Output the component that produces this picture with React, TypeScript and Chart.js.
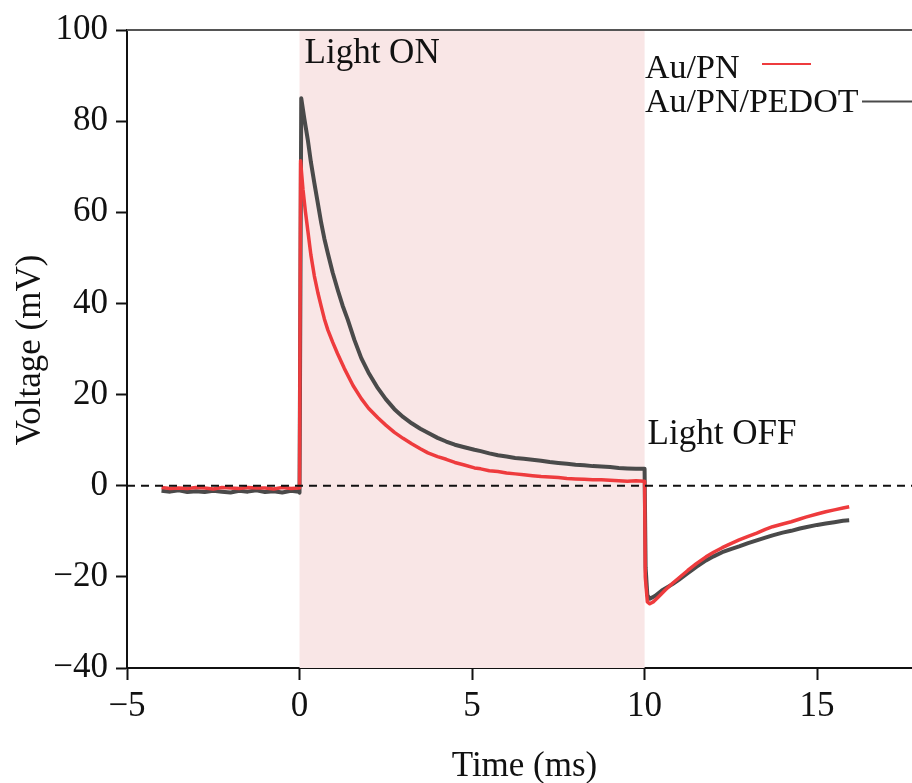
import React, { useEffect, useRef } from "react";
import { Chart, registerables } from "chart.js";

Chart.register(...registerables);

// ---- Data ----
const xTicks = [-5, 0, 5, 10, 15];
const yTicks = [-40, -20, 0, 20, 40, 60, 80, 100];

const seriesNames = ["Au/PN", "Au/PN/PEDOT"];

const timeRed = [
  -4.0, -3.75, -3.5, -3.25, -3.0, -2.75, -2.5, -2.25, -2.0, -1.75, -1.5, -1.25, -1.0, -0.75, -0.5, -0.25, -0.02,
  0.0, 0.03, 0.1, 0.17, 0.24, 0.33, 0.43, 0.53, 0.63, 0.72, 0.82, 0.96, 1.1, 1.3, 1.55, 1.79, 2.0, 2.27, 2.5, 2.75,
  3.0, 3.25, 3.5, 3.72,
  4.0, 4.25, 4.5, 4.75, 5.07, 5.25, 5.5, 5.75, 6.0, 6.25, 6.5, 6.75, 7.0, 7.25, 7.5, 7.75, 8.0, 8.25, 8.5, 8.75,
  9.0, 9.25, 9.5, 9.75, 9.98,
  10.0, 10.02, 10.08, 10.15, 10.25, 10.4, 10.6, 10.81, 11.0, 11.25, 11.5, 11.78, 12.0, 12.25, 12.5, 12.74, 13.0,
  13.25, 13.5, 13.71, 14.0, 14.25, 14.5, 14.67, 15.0, 15.25, 15.5, 15.75, 15.93,
];
const voltRed = [
  -0.4, -0.6, -0.5, -0.6, -0.4, -0.5, -0.7, -0.4, -0.5, -0.6, -0.4, -0.5, -0.5, -0.7, -0.4, -0.6, -0.5,
  -0.5, 71.3, 65.0, 60.2, 56.0, 50.6, 46.0, 42.4, 39.3, 36.6, 34.2, 31.5, 29.0, 25.7, 22.0, 19.1, 17.0, 14.9, 13.3, 11.7,
  10.4, 9.2, 8.1, 7.2,
  6.4, 5.8, 5.1, 4.6, 3.9, 3.7, 3.3, 3.1, 2.8, 2.6, 2.4, 2.2, 2.0, 1.9, 1.8, 1.6, 1.5, 1.4, 1.3, 1.3,
  1.2, 1.1, 1.0, 1.1, 1.0,
  1.0, -20.0, -25.5, -25.9, -25.5, -24.4, -22.9, -21.4, -20.2, -18.6, -17.1, -15.6, -14.6, -13.6, -12.7, -11.9, -11.1,
  -10.4, -9.6, -9.0, -8.4, -7.9, -7.3, -6.9, -6.2, -5.7, -5.3, -4.9, -4.6,
];

const timeGray = [
  -4.0, -3.75, -3.5, -3.25, -3.0, -2.75, -2.5, -2.25, -2.0, -1.75, -1.5, -1.25, -1.0, -0.75, -0.5, -0.25, -0.02,
  0.0, 0.05, 0.14, 0.24, 0.33, 0.43, 0.53, 0.63, 0.72, 0.82, 0.96, 1.11, 1.25, 1.4, 1.59, 1.79, 2.0, 2.27, 2.5, 2.75,
  3.0, 3.25, 3.5, 3.72,
  4.0, 4.25, 4.5, 4.75, 5.07, 5.25, 5.5, 5.75, 6.0, 6.25, 6.5, 6.75, 7.0, 7.25, 7.5, 7.75, 8.0, 8.25, 8.5, 8.75,
  9.0, 9.25, 9.5, 9.75, 9.98,
  10.0, 10.03, 10.08, 10.15, 10.3, 10.5, 10.81, 11.0, 11.25, 11.5, 11.78, 12.0, 12.25, 12.5, 12.74, 13.0,
  13.25, 13.5, 13.71, 14.0, 14.25, 14.5, 14.67, 15.0, 15.25, 15.5, 15.75, 15.93,
];
const voltGray = [
  -1.1, -1.3, -1.0, -1.4, -1.2, -1.4, -1.1, -1.3, -1.5, -1.1, -1.3, -1.0, -1.4, -1.2, -1.5, -1.1, -1.3,
  -1.5, 85.0, 80.5, 75.9, 71.0, 66.4, 62.0, 57.6, 54.2, 51.0, 46.8, 42.9, 39.5, 36.4, 32.0, 28.0, 24.8, 21.4, 19.0, 16.8,
  15.1, 13.7, 12.5, 11.6,
  10.5, 9.7, 9.0, 8.5, 7.9, 7.6, 7.1, 6.7, 6.4, 6.1, 5.9, 5.7, 5.5, 5.2, 5.0, 4.8, 4.6, 4.5, 4.3, 4.2,
  4.1, 3.9, 3.8, 3.7, 3.7,
  3.7, -18.0, -24.0, -24.8, -24.2, -23.0, -21.6, -20.6, -19.2, -17.8, -16.4, -15.5, -14.6, -13.9, -13.3, -12.6,
  -12.0, -11.4, -10.9, -10.3, -9.9, -9.4, -9.1, -8.6, -8.3, -8.0, -7.7, -7.6,
];

const shadeStart = 0;
const shadeEnd = 10;
const annotationOn = "Light ON";
const annotationOff = "Light OFF";
const xTitle = "Time (ms)";
const yTitle = "Voltage (mV)";

const RED = "#ee3b3d";
const GRAY = "#4a4a4a";
const FONT = "'Liberation Serif', 'Times New Roman', serif";

const fmt = (v: number) => (v < 0 ? "\u2212" + Math.abs(v) : String(v));

const decorPlugin = {
  id: "decor",
  beforeDatasetsDraw(chart: any) {
    const { ctx, chartArea, scales } = chart;
    const x = scales.x;
    ctx.save();
    ctx.fillStyle = "#f9e6e6";
    const x0 = x.getPixelForValue(shadeStart);
    const x1 = x.getPixelForValue(shadeEnd);
    ctx.fillRect(x0, chartArea.top, x1 - x0, chartArea.bottom - chartArea.top);
    ctx.restore();
  },
  afterDatasetsDraw(chart: any) {
    const { ctx, chartArea, scales } = chart;
    const x = scales.x;
    const y = scales.y;
    ctx.save();
    // zero dashed line
    const y0 = y.getPixelForValue(0);
    ctx.strokeStyle = "#111";
    ctx.lineWidth = 2;
    ctx.setLineDash([8, 6]);
    ctx.beginPath();
    ctx.moveTo(chartArea.left, y0);
    ctx.lineTo(chartArea.right, y0);
    ctx.stroke();
    ctx.setLineDash([]);
    // top spine
    ctx.strokeStyle = "#555";
    ctx.lineWidth = 2;
    ctx.beginPath();
    ctx.moveTo(chartArea.left, chartArea.top);
    ctx.lineTo(chartArea.right, chartArea.top);
    ctx.stroke();

    ctx.fillStyle = "#111";
    ctx.font = `35px ${FONT}`;
    ctx.textBaseline = "alphabetic";
    ctx.textAlign = "left";
    ctx.fillText(annotationOn, x.getPixelForValue(shadeStart) + 5, 63);
    ctx.fillText(annotationOff, x.getPixelForValue(shadeEnd) + 3, 444);

    // legend
    ctx.font = `34px ${FONT}`;
    ctx.fillText(seriesNames[0], 645, 78);
    ctx.fillText(seriesNames[1], 645, 112);
    ctx.lineWidth = 2;
    ctx.strokeStyle = RED;
    ctx.beginPath();
    ctx.moveTo(762, 64);
    ctx.lineTo(811, 64);
    ctx.stroke();
    ctx.strokeStyle = GRAY;
    ctx.beginPath();
    ctx.moveTo(862, 101.5);
    ctx.lineTo(912, 101.5);
    ctx.stroke();

    // axis titles
    ctx.font = `35px ${FONT}`;
    ctx.textAlign = "center";
    ctx.textBaseline = "middle";
    ctx.fillText(xTitle, (chartArea.left + chartArea.right) / 2 + 5, 767);
    ctx.translate(31, 350);
    ctx.rotate(-Math.PI / 2);
    ctx.fillText(yTitle, 0, 0);
    ctx.restore();
  },
};

export default function App() {
  const ref = useRef<HTMLCanvasElement | null>(null);
  useEffect(() => {
    if (!ref.current) return;
    const redPts = timeRed.map((t, i) => ({ x: t, y: voltRed[i] }));
    const grayPts = timeGray.map((t, i) => ({ x: t, y: voltGray[i] }));
    const chart = new Chart(ref.current, {
      type: "line",
      data: {
        datasets: [
          {
            label: seriesNames[0],
            data: redPts,
            borderColor: RED,
            borderWidth: 3.5,
            borderJoinStyle: "round",
            pointRadius: 0,
            tension: 0,
            fill: false,
          },
          {
            label: seriesNames[1],
            data: grayPts,
            borderColor: GRAY,
            borderWidth: 4,
            borderJoinStyle: "round",
            pointRadius: 0,
            tension: 0,
            fill: false,
          },
        ],
      },
      plugins: [decorPlugin],
      options: {
        animation: false,
        responsive: false,
        maintainAspectRatio: false,
        layout: { padding: { top: 30, right: 0, left: 0, bottom: 0 } },
        plugins: { legend: { display: false }, tooltip: { enabled: false } },
        scales: {
          x: {
            type: "linear",
            min: -5,
            max: 17.75,
            afterFit: (s: any) => {
              s.height = 115;
            },
            afterBuildTicks: (s: any) => {
              s.ticks = xTicks.map((v) => ({ value: v }));
            },
            ticks: {
              includeBounds: false,
              stepSize: 5,
              maxRotation: 0,
              autoSkip: false,
              color: "#111",
              padding: 6,
              font: { family: FONT, size: 35 },
              callback: (v: any) => fmt(Number(v)),
            },
            grid: {
              drawOnChartArea: false,
              drawTicks: true,
              tickLength: 12,
              tickColor: "#111",
              tickWidth: 2,
            },
            border: { color: "#111", width: 2 },
          },
          y: {
            type: "linear",
            min: -40,
            max: 100,
            afterFit: (s: any) => {
              s.width = 127;
            },
            afterBuildTicks: (s: any) => {
              s.ticks = yTicks.map((v) => ({ value: v }));
            },
            ticks: {
              stepSize: 20,
              autoSkip: false,
              color: "#111",
              padding: 8,
              font: { family: FONT, size: 35 },
              callback: (v: any) => fmt(Number(v)),
            },
            grid: {
              drawOnChartArea: false,
              drawTicks: true,
              tickLength: 11,
              tickColor: "#111",
              tickWidth: 2,
            },
            border: { color: "#111", width: 2 },
          },
        },
      },
    });
    return () => chart.destroy();
  }, []);
  return (
    <div style={{ position: "fixed", left: 0, top: 0, width: 912, height: 783, background: "#fff" }}>
      <canvas ref={ref} width={912} height={783} style={{ width: 912, height: 783, display: "block" }} />
    </div>
  );
}
